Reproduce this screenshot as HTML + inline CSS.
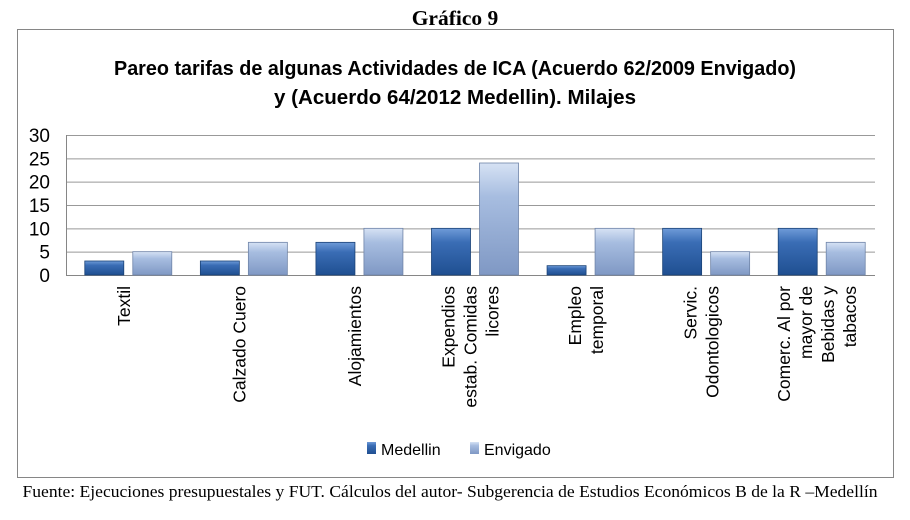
<!DOCTYPE html>
<html><head><meta charset="utf-8"><style>
body{margin:0;background:#fff;width:910px;height:515px;overflow:hidden}
svg text{font-family:"Liberation Sans",sans-serif}
</style></head><body>
<svg width="910" height="515" viewBox="0 0 910 515">
<defs>
<linearGradient id="gm" x1="0" y1="0" x2="0" y2="1"><stop offset="0" stop-color="#6f9bd8"/><stop offset="0.3" stop-color="#3a6db5"/><stop offset="1" stop-color="#1f4f91"/></linearGradient>
<linearGradient id="ge" x1="0" y1="0" x2="0" y2="1"><stop offset="0" stop-color="#d6e2f4"/><stop offset="0.3" stop-color="#a7bde0"/><stop offset="1" stop-color="#7f98c4"/></linearGradient>
</defs>
<text x="455" y="25" text-anchor="middle" font-size="21.5" font-weight="bold" style="font-family:'Liberation Serif',serif">Gráfico 9</text>
<rect x="17.5" y="29.5" width="876" height="448" fill="#fff" stroke="#868686"/>
<text x="455" y="75" text-anchor="middle" font-size="20" font-weight="bold" textLength="682" lengthAdjust="spacingAndGlyphs">Pareo tarifas de algunas Actividades de ICA (Acuerdo 62/2009 Envigado)</text>
<text x="455" y="104" text-anchor="middle" font-size="20" font-weight="bold" textLength="362" lengthAdjust="spacingAndGlyphs">y (Acuerdo 64/2012 Medellin). Milajes</text>
<g id="grid"></g><g id="bars"></g><g id="labels"></g>
<g>
<rect x="367" y="442" width="9" height="12" fill="url(#gm)"/>
<text x="381" y="455" font-size="16">Medellin</text>
<rect x="470" y="442" width="9" height="12" fill="url(#ge)"/>
<text x="484" y="455" font-size="16">Envigado</text>
</g>
<text x="450" y="497" text-anchor="middle" font-size="17" textLength="855" lengthAdjust="spacingAndGlyphs" style="font-family:'Liberation Serif',serif">Fuente: Ejecuciones presupuestales y FUT. Cálculos del autor- Subgerencia de Estudios Económicos B de la R –Medellín</text>
</svg>
<script>
const categories=[["Textil"],["Calzado  Cuero"],["Alojamientos"],["Expendios","estab. Comidas","licores"],["Empleo","temporal"],["Servic.","Odontologicos"],["Comerc. Al por","mayor de","Bebidas y","tabacos"]];
const medellin=[3,3,7,10,2,10,10];
const envigado=[5,7,10,24,10,5,7];
const yTicks=[0,5,10,15,20,25,30];
const NS="http://www.w3.org/2000/svg";
const x0=66,x1=875,yTop=135,yBot=275,yMax=30;
const cw=(x1-x0)/categories.length;
const y=v=>yBot-(v/yMax)*(yBot-yTop);
function mk(t,a,p){const e=document.createElementNS(NS,t);for(const k in a)e.setAttribute(k,a[k]);p.appendChild(e);return e;}
const grid=document.getElementById('grid'),bars=document.getElementById('bars'),labels=document.getElementById('labels');
yTicks.forEach(v=>{
 const l=mk('line',{x1:x0,x2:x1,y1:y(v)+.5,y2:y(v)+.5,stroke:v===0?'#868686':'#999','stroke-width':1},grid);
 
 
 const t=mk('text',{x:50,y:y(v)+7,'text-anchor':'end','font-size':19},grid);t.textContent=v;
 
 
});
mk('line',{x1:x0+.5,x2:x0+.5,y1:yTop,y2:yBot,stroke:'#868686'},grid);
categories.forEach((c,i)=>{
 const cx=x0+cw*(i+0.5);
 [[medellin[i],'url(#gm)','#1a4276',cx-39],[envigado[i],'url(#ge)','#6f84a8',cx+9]].forEach(([v,f,s,bx],j)=>{
  const r=mk('rect',{x:bx,y:y(v),width:39,height:yBot-y(v),fill:f,stroke:s,'stroke-width':0.8},bars);
  
  
 });
 const n=c.length,lh=22;
 c.forEach((ln,k)=>{
  const lx=cx+(k-(n-1)/2)*lh+6;
  const t=mk('text',{x:lx,y:286,'text-anchor':'end','font-size':17.5,transform:`rotate(-90 ${lx} 286)`},labels);
  t.textContent=ln;
  
  
 });
});
</script>
</body></html>
